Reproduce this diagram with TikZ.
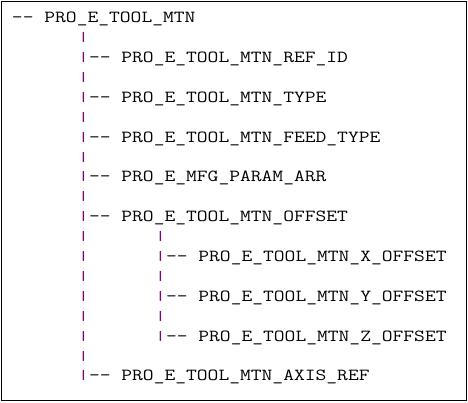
\documentclass[tikz,border=0pt]{standalone}
\usepackage{fontspec}
\usepackage{graphicx}
\definecolor{barc}{HTML}{800080}
\newcommand{\cw}[1]{\scalebox{1.24}[1]{#1}}
\newcommand{\vb}{\raisebox{1pt}{\scalebox{1.24}[0.78]{|}}}
\begin{document}
\begin{tikzpicture}[x=1pt,y=-1pt,
  t/.style={anchor=base west,inner sep=0pt,outer sep=0pt,font=\fontsize{16.9}{16.9}\selectfont\ttfamily},
  bar/.style={t,text=barc}]
\useasboundingbox (0,0) rectangle (468,402);
\draw[line width=1pt] (1,1) rectangle (466,400);
% row 0
\node[t] (root) at (12,22.7) {\cw{-{}- PRO\_E\_TOOL\_MTN}};
% level 1
\node[bar] (b1) at (78,42.6) {\vb};
\node[bar] (b2) at (78,62.5) {\vb};
\node[t] (n1) at (89,62.5) {\cw{-{}- PRO\_E\_TOOL\_MTN\_REF\_ID}};
\node[bar] (b3) at (78,82.4) {\vb};
\node[bar] (b4) at (78,102.3) {\vb};
\node[t] (n2) at (89,102.3) {\cw{-{}- PRO\_E\_TOOL\_MTN\_TYPE}};
\node[bar] (b5) at (78,122.2) {\vb};
\node[bar] (b6) at (78,142.1) {\vb};
\node[t] (n3) at (89,142.1) {\cw{-{}- PRO\_E\_TOOL\_MTN\_FEED\_TYPE}};
\node[bar] (b7) at (78,162.0) {\vb};
\node[bar] (b8) at (78,181.9) {\vb};
\node[t] (n4) at (89,181.9) {\cw{-{}- PRO\_E\_MFG\_PARAM\_ARR}};
\node[bar] (b9) at (78,201.8) {\vb};
\node[bar] (b10) at (78,221.7) {\vb};
\node[t] (n5) at (89,221.7) {\cw{-{}- PRO\_E\_TOOL\_MTN\_OFFSET}};
\node[bar] (b11) at (78,241.6) {\vb};
\node[bar] (b12) at (78,261.5) {\vb};
\node[bar] (b13) at (78,281.4) {\vb};
\node[bar] (b14) at (78,301.3) {\vb};
\node[bar] (b15) at (78,321.2) {\vb};
\node[bar] (b16) at (78,341.1) {\vb};
\node[bar] (b17) at (78,361.0) {\vb};
\node[bar] (b18) at (78,380.9) {\vb};
\node[t] (n6) at (89,380.9) {\cw{-{}- PRO\_E\_TOOL\_MTN\_AXIS\_REF}};
% level 2
\node[bar] (c1) at (155,241.6) {\vb};
\node[bar] (c2) at (155,261.5) {\vb};
\node[t] (m1) at (166,261.5) {\cw{-{}- PRO\_E\_TOOL\_MTN\_X\_OFFSET}};
\node[bar] (c3) at (155,281.4) {\vb};
\node[bar] (c4) at (155,301.3) {\vb};
\node[t] (m2) at (166,301.3) {\cw{-{}- PRO\_E\_TOOL\_MTN\_Y\_OFFSET}};
\node[bar] (c5) at (155,321.2) {\vb};
\node[bar] (c6) at (155,341.1) {\vb};
\node[t] (m3) at (166,341.1) {\cw{-{}- PRO\_E\_TOOL\_MTN\_Z\_OFFSET}};
\end{tikzpicture}
\end{document}
